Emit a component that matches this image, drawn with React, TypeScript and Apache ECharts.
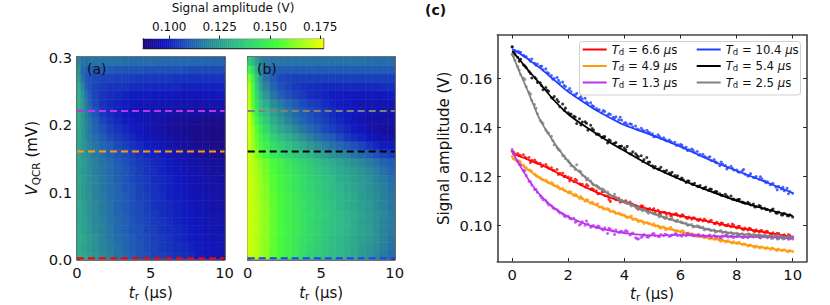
import React, { useEffect, useRef } from "react";
import * as echarts from "echarts";

const FONT = "DejaVu Sans";

// time-cell edges (µs) of the two maps; rows are evenly spaced over the voltage range
const tEdges = [0, .25, .5, .75, 1, 1.5, 2, 2.5, 3, 3.5, 4, 4.5, 5, 5.5, 6, 6.5, 7, 7.5, 8, 8.5, 9, 9.5, 10];
const vMax = 0.3;

// Signal amplitude (mV), bottom row first
const mapA = [
  [129,128,127,125,123,120,118,115,113,111,109,108,106,105,104,103,102,101,99,98,97,96],
  [128,127,126,124,122,119,117,115,112,110,109,107,106,104,103,102,101,100,99,98,97,96],
  [129,128,126,124,122,119,116,114,112,110,108,107,105,104,103,101,100,99,98,97,96,96],
  [128,127,125,123,121,118,116,113,111,109,108,106,105,103,102,101,100,99,98,97,96,95],
  [128,126,125,123,120,118,115,113,111,109,107,106,104,103,102,100,99,98,97,96,96,95],
  [127,126,124,122,120,117,115,112,110,108,107,105,104,102,101,100,99,98,97,96,95,95],
  [128,126,124,122,120,117,115,112,110,108,107,105,103,102,101,100,99,98,97,96,95,94],
  [127,125,123,122,119,117,114,112,110,108,106,105,103,102,100,99,98,97,96,96,95,94],
  [127,125,123,121,119,116,114,112,109,108,106,104,103,101,100,99,98,97,96,95,94,94],
  [127,125,123,121,119,116,114,111,109,107,105,104,102,101,100,98,97,96,95,95,94,93],
  [126,124,123,121,118,116,113,111,109,107,105,103,102,100,99,98,97,96,95,94,93,93],
  [127,125,123,120,118,115,113,110,108,106,104,103,101,100,98,97,96,95,94,93,93,92],
  [127,124,122,120,117,114,111,109,107,105,103,101,100,99,97,96,95,94,93,92,91,90],
  [127,124,121,118,116,112,110,107,105,103,101,99,98,97,95,94,93,92,91,91,90,89],
  [128,124,120,117,114,110,107,105,103,101,99,97,96,95,94,93,92,91,90,90,89,89],
  [128,124,119,116,112,108,105,103,101,99,98,96,95,94,93,92,91,91,90,90,89,89],
  [129,124,119,115,111,106,103,101,99,98,97,96,95,94,93,92,92,91,91,90,90,90],
  [129,124,118,114,109,104,102,100,98,97,96,96,95,95,95,94,94,94,93,93,93,93],
  [130,124,117,112,107,103,101,100,99,98,97,97,96,96,96,95,95,95,95,95,95,95],
  [130,123,115,110,106,103,102,101,100,99,99,99,98,98,98,98,97,97,97,97,97,98],
  [128,120,112,108,106,104,103,103,103,102,102,101,101,101,101,101,100,100,100,100,100,100],
  [125,116,110,108,107,106,106,105,105,105,104,104,104,104,104,103,103,103,103,103,103,103],
  [122,113,111,110,110,110,110,109,109,109,109,108,108,108,108,108,108,107,107,107,107,107],
  [119,116,115,115,115,115,115,115,114,114,114,114,114,113,113,113,113,113,113,112,112,112],
];
const mapB = [
  [171,170,168,166,163,157,153,150,147,143,140,138,136,134,132,130,128,125,123,120,117,114],
  [172,171,169,166,163,158,153,150,147,144,141,139,136,134,132,130,128,125,123,121,118,115],
  [172,170,168,166,163,157,153,150,147,144,142,139,137,134,132,130,128,126,124,122,119,116],
  [172,171,169,167,163,158,154,151,148,145,142,140,137,135,133,131,129,127,125,122,119,117],
  [172,170,168,166,163,157,153,150,148,145,142,139,137,135,133,131,129,126,124,122,119,117],
  [172,171,169,166,163,158,153,151,148,145,143,140,138,135,133,131,129,127,124,122,120,117],
  [171,170,168,166,163,157,153,150,147,145,142,140,137,135,132,130,128,126,124,121,119,116],
  [172,170,168,166,162,157,153,150,147,144,142,139,137,134,132,130,128,125,123,121,118,116],
  [171,170,168,165,162,156,152,149,146,143,141,138,136,133,131,129,127,125,122,120,118,115],
  [172,170,167,165,161,156,152,149,146,143,140,138,135,133,130,128,126,124,122,119,117,114],
  [171,169,167,164,160,155,151,148,145,142,139,136,134,131,129,127,125,123,120,118,115,112],
  [171,169,166,163,159,154,150,146,143,140,137,134,131,129,127,124,122,120,117,115,112,110],
  [171,167,162,158,153,147,144,140,137,134,131,128,125,122,120,118,115,113,111,108,106,104],
  [171,166,160,155,150,143,139,135,131,128,124,121,118,115,113,110,108,106,103,101,99,98],
  [172,165,158,152,147,139,134,130,126,122,118,115,112,110,107,104,102,100,98,96,95,94],
  [172,164,156,149,142,134,128,124,120,116,113,110,107,105,103,101,99,97,95,94,93,93],
  [172,161,152,145,138,129,124,119,115,112,109,107,105,103,101,99,97,96,94,94,94,94],
  [171,158,148,140,134,126,121,117,113,110,108,106,104,102,100,99,98,97,96,96,95,95],
  [171,156,145,136,129,121,117,113,110,107,105,104,102,100,99,98,97,96,96,96,96,96],
  [170,155,142,132,124,116,111,108,106,104,102,101,100,99,99,98,98,98,98,98,98,99],
  [168,154,138,127,119,112,108,106,104,103,102,102,101,101,101,101,101,101,101,101,102,102],
  [162,150,135,124,115,110,107,106,105,105,105,105,105,105,105,105,105,105,105,105,105,105],
  [152,142,130,120,114,111,110,110,110,110,110,110,110,110,110,110,110,110,110,110,110,110],
  [138,132,125,120,117,116,116,115,115,115,115,115,115,115,115,115,115,115,114,114,114,114],
];

const linesA = [0.002, 0.16, 0.22];
const linesB = [0.002, 0.16, 0.22];
const linesAColors = ["#ff0000", "#ff9a0c", "#bb33ee"];
const linesBColors = ["#2040ff", "#000000", "#808080"];

const cbTicks = [0.1, 0.125, 0.15, 0.175];
const cbMin = 0.0871;
const cbMax = 0.1765;
const cmap = ["#1e0878", "#1018c0", "#2058b8", "#2a8c96", "#2fb888", "#34dc68", "#48fc3a", "#9cff18", "#f0ff00"];

const tdLabels = ["6.6", "4.9", "1.3", "10.4", "5.4", "2.5"];
const colors = ["#ff0000", "#ff9a0c", "#bb33ee", "#2040ff", "#000000", "#808080"];

// fit curves (mV) at fitT (µs)
const fitT = [0, .25, .5, .75, 1, 1.5, 2, 2.5, 3, 3.5, 4, 5, 6, 7, 8, 9, 10];
const fitRed = [129.5,128.3,127.2,126,124.9,122.2,119.2,116.3,113.6,111.4,109.5,106.4,104,101.7,99.3,97.3,95.5];
const fitOrange = [127.6,125.4,123.3,121.2,119.2,116.3,113.6,110.9,108.2,106,104,100.4,97.6,95,92.9,91,89.5];
const fitPurple = [130.3,125,120.3,116,112.5,107.2,103.6,101.2,99.3,98,97,96,96.2,95.8,95.5,95.4,94.8];
const fitBlue = [172,170.2,168.4,166.3,164.2,159.3,154.5,150.7,147,143.9,141,136.8,132.2,127,122.4,118,113.3];
const fitBlack = [171,167.8,164.3,161,157.8,151,145.4,141.2,137.5,133.8,130.5,124,118.8,114.3,110.2,106.9,104];
const fitGray = [170,163,156.5,149.5,143,133.8,126.2,120.8,116,112.5,109.7,105,101.3,98.4,96.8,96,95.3];

// measured points (mV), one every 0.1 µs from t = 0
const ptsRed = [130.3,129.2,129.4,128.5,128.9,127.6,127.8,126.6,126.7,125.5,125.4,124.6,124.9,123.4,123.6,122.5,122.9,121.3,121.4,120.2,119.8,119.4,117.9,118.4,117.1,116.9,115.8,116.2,114.9,114.7,114.2,113.1,113.6,112.3,112.1,109.9,111.7,110.6,111.2,110.0,109.8,109.1,109.6,108.6,108.2,106.7,108.1,107.2,106.6,107.0,106.4,105.6,106.3,105.2,105.5,104.7,105.1,104.3,104.6,104.2,103.7,104.2,103.2,103.5,102.6,103.1,102.3,102.7,101.9,102.1,101.5,102.2,100.9,101.4,100.3,101.0,100.1,100.5,99.6,100.2,99.1,99.8,98.6,99.0,98.2,98.7,97.9,98.3,97.4,98.0,97.2,97.7,96.6,97.1,96.3,96.8,95.9,96.3,95.6,96.0,95.4];
const ptsOrange = [128.2,127.2,126.5,125.9,124.7,123.6,122.8,122.2,121.0,120.1,119.6,118.7,118.6,117.5,117.6,116.4,116.2,115.0,115.1,114.2,113.4,113.6,112.3,112.4,111.1,111.2,110.0,110.4,109.2,109.0,108.6,107.6,107.7,106.9,107.0,105.8,106.0,105.0,105.2,104.5,104.3,103.2,103.6,102.5,102.7,101.6,102.0,100.9,101.3,100.8,100.2,99.8,99.9,99.0,99.5,98.4,98.7,98.6,98.0,97.9,97.4,97.8,96.5,97.0,96.1,96.4,95.6,96.0,95.3,95.5,94.9,95.3,94.4,94.7,93.9,94.2,93.4,93.8,93.2,93.4,92.8,93.2,92.3,92.5,91.7,92.1,91.5,91.7,91.0,91.4,90.9,91.1,90.4,90.7,90.1,90.5,89.9,90.2,89.6,89.9,89.5];
const ptsPurple = [131.0,128.6,126.2,124.7,122.6,120.4,118.1,116.6,114.7,113.6,112.2,110.6,110.2,108.4,108.1,106.9,106.5,105.2,104.8,103.6,103.8,102.7,103.0,101.8,100.3,101.6,100.2,100.7,99.4,100.1,99.2,99.6,98.6,99.1,96.8,98.5,97.9,98.2,97.2,97.7,97.3,97.6,96.2,97.0,95.1,94.6,95.2,96.4,95.5,95.9,96.6,96.0,95.7,96.4,95.9,96.3,95.6,96.2,96.6,96.0,96.1,96.5,95.9,96.3,96.6,95.8,96.2,95.7,96.1,95.5,95.9,95.3,96.0,95.5,95.1,95.8,96.0,95.4,95.7,95.2,95.6,96.0,95.3,95.7,95.1,95.8,95.4,95.9,95.3,95.7,95.5,95.1,95.7,95.2,95.6,95.0,95.4,94.8,95.2,94.7,94.6];
const ptsBlue = [172.8,171.4,171.0,170.6,169.4,168.8,167.7,167.9,166.2,165.9,164.9,163.5,163.9,162.0,161.2,160.0,160.4,158.2,158.5,156.7,155.2,154.7,153.3,153.9,152.0,151.6,151.9,149.8,150.1,148.6,147.7,147.2,146.0,146.5,145.0,145.3,144.2,144.4,143.1,143.0,141.8,141.1,141.5,140.2,140.6,139.1,139.7,138.5,138.9,137.8,137.4,136.4,137.0,135.6,135.8,134.6,134.9,133.8,134.0,133.0,133.1,131.7,132.0,130.9,131.2,129.8,130.2,129.0,129.1,127.9,127.7,126.6,126.9,125.6,124.4,125.1,124.5,123.7,124.2,122.7,122.7,121.8,122.3,121.0,120.2,121.2,119.6,120.0,118.9,119.1,118.2,117.9,116.7,117.2,115.8,116.0,115.0,114.2,115.2,113.9,113.2];
const ptsBlack = [172.9,170.0,168.6,167.8,165.6,164.4,162.8,160.2,160.5,158.4,158.2,155.4,156.3,154.8,152.2,152.6,151.4,148.5,149.6,147.9,146.0,145.5,144.6,141.6,143.6,142.2,142.3,138.9,140.9,139.0,137.3,137.1,135.8,136.3,133.7,134.6,133.4,133.9,132.2,132.4,131.6,132.3,129.3,130.1,129.3,128.1,128.5,126.9,127.8,125.9,124.4,124.1,123.1,123.8,122.3,122.5,121.4,121.8,120.4,120.3,119.0,118.7,117.6,118.2,117.0,117.3,116.1,116.4,115.2,115.7,114.4,114.8,113.6,113.8,113.0,112.4,112.8,111.6,112.1,110.8,110.4,110.7,109.6,109.1,109.5,108.4,108.8,107.7,108.2,107.0,107.1,106.6,105.9,106.8,105.2,105.6,104.4,105.0,104.2,104.4,103.5];
const ptsGray = [169.8,167.4,164.8,161.6,160.2,156.6,154.4,151.0,149.4,145.6,142.9,141.6,139.0,137.6,136.4,132.9,131.8,130.6,128.6,127.4,126.4,124.4,123.9,124.8,122.3,120.6,119.9,119.2,118.2,116.6,116.4,115.4,115.0,114.2,113.7,112.3,112.0,111.6,110.6,110.4,109.9,109.5,108.8,108.8,107.6,107.7,106.6,106.9,105.8,105.8,105.2,104.8,104.4,104.2,103.4,103.6,102.6,103.0,102.0,102.3,101.6,101.1,101.0,100.4,100.5,99.7,99.9,99.3,99.4,98.6,98.6,98.0,98.2,97.6,97.8,97.1,97.5,96.9,97.2,96.6,96.9,96.3,96.7,96.0,96.6,95.8,96.4,95.7,96.3,95.4,96.1,95.3,96.0,95.0,95.9,94.7,95.8,94.9,95.6,95.1,95.3];

// further measured points (mV), one every 0.2 µs from t = 0.05
const pts2Red = [129.9,128.7,127.9,125.7,125.9,124.1,124.0,122.6,120.9,120.0,118.2,118.9,116.7,116.8,115.0,113.0,113.9,110.7,111.5,109.6,110.1,108.8,107.6,108.0,106.2,106.9,105.0,105.4,104.0,104.9,104.4,102.9,103.2,102.1,102.7,101.9,100.8,101.1,100.0,100.7,99.6,98.3,98.9,97.5,97.9,97.6,96.5,96.9,95.9,96.4];
const pts2Orange = [127.3,126.3,123.9,122.5,120.5,118.9,118.0,117.3,115.7,114.5,113.9,112.7,111.9,110.6,109.6,108.9,106.8,106.6,105.6,104.8,103.7,103.9,102.4,101.6,101.0,100.8,99.3,98.6,99.3,97.7,97.9,96.9,96.2,95.7,95.1,94.6,94.9,93.7,93.6,92.9,93.0,92.5,91.9,91.2,91.0,90.6,90.9,89.9,90.0,89.4];
const pts2Purple = [129.4,125.0,122.4,117.9,114.7,111.4,109.3,107.3,105.8,104.1,103.0,101.4,100.8,101.9,99.8,99.8,98.2,98.9,96.4,97.5,98.0,96.6,94.7,95.7,95.3,96.8,95.5,96.5,95.9,96.7,95.7,96.8,96.0,96.4,95.8,96.2,95.4,95.0,96.1,95.5,95.9,95.2,96.1,95.6,95.0,95.8,95.3,94.6,95.4,94.5];
const pts2Blue = [171.3,170.8,168.9,167.0,165.4,165.0,162.4,159.7,159.2,157.1,155.9,153.0,152.5,150.4,148.9,147.0,146.9,145.6,143.8,144.2,141.9,141.3,139.4,139.0,138.2,136.2,136.3,135.0,134.3,132.8,132.9,130.6,130.7,128.8,128.2,128.1,125.9,125.9,123.1,123.4,122.0,122.9,120.4,119.5,119.9,117.5,117.0,114.6,115.6,113.0];
const pts2Black = [170.5,167.0,165.1,162.0,159.9,157.0,155.2,151.8,150.5,147.0,145.3,144.3,141.0,141.7,139.6,137.3,136.2,135.0,133.5,132.3,130.9,129.2,128.6,126.2,125.8,123.5,123.0,121.8,121.0,119.7,119.4,118.2,116.8,115.9,115.2,114.9,113.9,112.4,112.1,110.8,110.6,109.4,109.0,107.6,107.9,106.6,106.4,105.1,104.4,103.9];
const pts2Gray = [169.0,163.4,159.6,153.6,147.8,142.2,138.2,134.6,131.0,128.4,125.6,122.9,121.9,118.6,117.2,115.9,114.6,112.9,112.8,109.9,109.4,108.0,107.0,106.1,105.1,104.9,103.6,102.9,102.6,101.7,101.3,100.2,99.5,99.7,98.3,98.3,97.4,97.9,97.0,96.8,96.6,95.9,96.6,95.5,96.0,95.8,94.8,96.2,94.6,95.9];

const fits = [fitRed, fitOrange, fitPurple, fitBlue, fitBlack, fitGray];
const pts = [ptsRed, ptsOrange, ptsPurple, ptsBlue, ptsBlack, ptsGray];
const pts2 = [pts2Red, pts2Orange, pts2Purple, pts2Blue, pts2Black, pts2Gray];

const AXIS = "#444444";
const TXT = "#111111";

const cellItem = (_: any, api: any) => {
  const a = api.coord([api.value(0), api.value(3)]);
  const b = api.coord([api.value(1), api.value(2)]);
  const color = api.visual("color");
  return {
    type: "rect",
    shape: { x: a[0], y: a[1], width: b[0] - a[0], height: b[1] - a[1] },
    style: { fill: color, stroke: color, lineWidth: 0.6 },
  };
};

const mapCells = (rows: number[][]) => {
  const out: number[][] = [];
  const dv = vMax / rows.length;
  rows.forEach((row, r) =>
    row.forEach((v, c) => out.push([tEdges[c], tEdges[c + 1], r * dv, (r + 1) * dv, v / 1000]))
  );
  return out;
};

const cbCells = () => {
  const n = 90;
  const out: number[][] = [];
  const d = (cbMax - cbMin) / n;
  for (let i = 0; i < n; i++) out.push([cbMin + i * d, cbMin + (i + 1) * d, 0, 1, cbMin + (i + 0.5) * d]);
  return out;
};

const axisRich = {
  i: { fontFamily: FONT, fontStyle: "italic", fontSize: 15, color: TXT, lineHeight: 18 },
  s: { fontFamily: FONT, fontSize: 10.5, color: TXT, verticalAlign: "bottom", lineHeight: 18 },
  n: { fontFamily: FONT, fontSize: 15, color: TXT, lineHeight: 18 },
};

const tName = "{i|t}{s|r}{n| (μs)}";

function xAx(gridIndex: number, o: any) {
  return {
    type: "value", gridIndex, position: "bottom", splitLine: { show: false },
    axisLine: { show: true, onZero: false, lineStyle: { color: AXIS, width: 1.6 } },
    axisTick: { show: true, inside: true, length: 3.5, lineStyle: { color: "#222", width: 1 } },
    axisLabel: { show: true, color: TXT, fontSize: 14.7, fontFamily: FONT, margin: 5 },
    ...o,
  };
}
function yAx(gridIndex: number, o: any) {
  return {
    type: "value", gridIndex, position: "left", splitLine: { show: false },
    axisLine: { show: true, onZero: false, lineStyle: { color: AXIS, width: 1.6 } },
    axisTick: { show: true, inside: true, length: 3.5, lineStyle: { color: "#222", width: 1 } },
    axisLabel: { show: true, color: TXT, fontSize: 14.7, fontFamily: FONT, margin: 5 },
    ...o,
  };
}
const noLabel = { axisLabel: { show: false } };
const fmt1 = (v: number) => v.toFixed(1);
const fmt2 = (v: number) => v.toFixed(2);

const mapXBase = { min: 0, max: 10, interval: 5 };
const mapYBase = { min: 0, max: vMax, interval: 0.1 };
const cX = { min: -0.53, max: 10.5 };
const cY = { min: 0.0854, max: 0.1777 };
const cXTicks = [0, 2, 4, 6, 8, 10];
const cYTicks = [0.1, 0.12, 0.14, 0.16];

function tickCustom(vals: number[], base: any) {
  return {
    axisTick: { ...base.axisTick, customValues: vals },
    axisLabel: { ...base.axisLabel, customValues: vals },
  };
}

export default function App() {
  const ref = useRef<HTMLDivElement>(null);
  useEffect(() => {
    const chart = echarts.init(ref.current!, undefined, { renderer: "svg" });

    const grids = [
      { left: 77, top: 57, width: 147.5, height: 202.5 },
      { left: 247.7, top: 57, width: 147, height: 202.5 },
      { left: 497.3, top: 35, width: 309.4, height: 226.5 },
      { left: 143.3, top: 39, width: 180, height: 9.3 },
    ].map((g) => ({ ...g, containLabel: false, outerBoundsMode: "none" }));

    const baseTick = { show: true, inside: true, length: 3.5, lineStyle: { color: "#222", width: 1 } };
    const baseLab = { show: true, color: TXT, fontSize: 14.7, fontFamily: FONT, margin: 5 };

    const xAxis: any[] = [
      xAx(0, { ...mapXBase, name: tName, nameLocation: "middle", nameGap: 24, nameTextStyle: { rich: axisRich } }),
      xAx(0, { ...mapXBase, position: "top", ...noLabel }),
      xAx(1, { ...mapXBase, name: tName, nameLocation: "middle", nameGap: 24, nameTextStyle: { rich: axisRich } }),
      xAx(1, { ...mapXBase, position: "top", ...noLabel }),
      xAx(2, { ...cX, name: tName, nameLocation: "middle", nameGap: 23, nameTextStyle: { rich: axisRich }, ...tickCustom(cXTicks, { axisTick: baseTick, axisLabel: baseLab }) }),
      xAx(2, { ...cX, position: "top", axisTick: { ...baseTick, customValues: cXTicks }, axisLabel: { show: false } }),
      xAx(3, {
        min: cbMin, max: cbMax, position: "top",
        axisLine: { show: true, onZero: false, lineStyle: { color: "#222", width: 1.4 } },
        axisTick: { show: true, inside: false, length: 3.5, lineStyle: { color: "#222", width: 1 }, customValues: cbTicks },
        axisLabel: { show: true, color: TXT, fontSize: 12, fontFamily: FONT, margin: 6, formatter: (v: number) => v.toFixed(3), customValues: cbTicks },
      }),
      xAx(3, { min: cbMin, max: cbMax, position: "bottom", axisTick: { show: false }, axisLabel: { show: false }, axisLine: { show: true, onZero: false, lineStyle: { color: "#222", width: 1.4 } } }),
    ];

    const yAxis: any[] = [
      yAx(0, { ...mapYBase, name: "{i|V}{s|QCR}{n| (mV)}", nameLocation: "middle", nameGap: 36, nameTextStyle: { rich: axisRich }, axisLabel: { ...baseLab, margin: 5, formatter: fmt1 } }),
      yAx(0, { ...mapYBase, position: "right", ...noLabel }),
      yAx(1, { ...mapYBase, ...noLabel }),
      yAx(1, { ...mapYBase, position: "right", ...noLabel }),
      yAx(2, {
        ...cY, name: "Signal amplitude (V)", nameLocation: "middle", nameGap: 46,
        nameTextStyle: { color: TXT, fontSize: 15, fontFamily: FONT },
        axisTick: { ...baseTick, customValues: cYTicks },
        axisLabel: { ...baseLab, margin: 5, formatter: fmt2, customValues: cYTicks },
      }),
      yAx(2, { ...cY, position: "right", axisTick: { ...baseTick, customValues: cYTicks }, axisLabel: { show: false } }),
      yAx(3, { min: 0, max: 1, axisTick: { show: false }, axisLabel: { show: false }, axisLine: { show: true, onZero: false, lineStyle: { color: "#222", width: 1.4 } } }),
      yAx(3, { min: 0, max: 1, position: "right", axisTick: { show: false }, axisLabel: { show: false }, axisLine: { show: true, onZero: false, lineStyle: { color: "#222", width: 1.4 } } }),
    ];

    const custom = (data: number[][], xi: number, yi: number) => ({
      type: "custom", coordinateSystem: "cartesian2d", xAxisIndex: xi, yAxisIndex: yi,
      renderItem: cellItem, data, silent: true, z: 1,
      encode: { x: [0, 1], y: [2, 3] }, clip: true,
    });

    const dashed = (vs: number[], cs: string[], xi: number, yi: number) =>
      vs.map((v, i) => ({
        type: "line", xAxisIndex: xi, yAxisIndex: yi, showSymbol: false, silent: true, z: 3,
        data: [[0, v], [10, v]],
        lineStyle: { color: cs[i], width: 2, type: [7, 4] },
      }));

    const series: any[] = [
      custom(mapCells(mapA), 0, 0),
      custom(mapCells(mapB), 2, 2),
      custom(cbCells(), 6, 6),
      ...dashed(linesA, linesAColors, 0, 0),
      ...dashed(linesB, linesBColors, 2, 2),
    ];
    tdLabels.forEach((td, i) => {
      const a = pts[i].map((v, k) => [k / 10, v / 1000]);
      const b = pts2[i].map((v, k) => [0.05 + k / 5, v / 1000]);
      series.push({
        name: td, type: "line", xAxisIndex: 4, yAxisIndex: 4, showSymbol: false, smooth: 0.3, silent: true, z: 3 + i,
        lineStyle: { color: colors[i], width: 1.7 }, itemStyle: { color: colors[i] },
        data: fitT.map((t, k) => [t, fits[i][k] / 1000]),
      });
      series.push({
        name: td + "-pts", type: "scatter", xAxisIndex: 4, yAxisIndex: 4, symbolSize: 3, silent: true, z: 3 + i,
        itemStyle: { color: colors[i] },
        data: a.concat(b),
      });
    });

    const legendRich = {
      i: { fontFamily: FONT, fontStyle: "italic", fontSize: 11.7, color: TXT, lineHeight: 13 },
      s: { fontFamily: FONT, fontSize: 8.5, color: TXT, verticalAlign: "bottom", lineHeight: 13 },
      n: { fontFamily: FONT, fontSize: 11.7, color: TXT, lineHeight: 13 },
    };
    const legendBase = {
      orient: "vertical", icon: "rect", itemWidth: 24, itemHeight: 2, itemGap: 4, padding: 0, z: 6,
      selectedMode: false, itemStyle: { borderWidth: 0 },
      textStyle: { rich: legendRich, padding: [0, 0, 0, 0] },
      formatter: (n: string) => `{i|T}{s|d}{n| = ${n} }{i|μ}{n|s}`,
    };

    chart.setOption({
      animation: false,
      textStyle: { fontFamily: FONT },
      grid: grids,
      xAxis, yAxis, series,
      visualMap: {
        show: false, type: "continuous", min: cbMin, max: cbMax, dimension: 4,
        seriesIndex: [0, 1, 2], inRange: { color: cmap },
      },
      legend: [
        { ...legendBase, left: 582.7, top: 43.5, data: tdLabels.slice(0, 3) },
        { ...legendBase, left: 696.7, top: 43.5, data: tdLabels.slice(3) },
      ],
      graphic: [
        { type: "rect", z: 5, shape: { x: 579.5, y: 41.5, width: 221, height: 53.5, r: 3 }, style: { fill: "rgba(255,255,255,0.8)", stroke: "#d0d0d0", lineWidth: 1 } },
        { type: "text", z: 7, x: 233, y: 8, style: { text: "Signal amplitude (V)", fontSize: 12, fontFamily: FONT, fill: TXT, align: "center", verticalAlign: "middle" } },
        { type: "text", z: 7, x: 87, y: 69, style: { text: "(a)", fontSize: 14, fontFamily: FONT, fill: TXT, verticalAlign: "middle" } },
        { type: "text", z: 7, x: 257, y: 69, style: { text: "(b)", fontSize: 14, fontFamily: FONT, fill: TXT, verticalAlign: "middle" } },
        { type: "text", z: 7, x: 425, y: 10, style: { text: "(c)", fontSize: 14, fontWeight: "bold", fontFamily: FONT, fill: TXT, verticalAlign: "middle" } },
      ],
    });
    return () => chart.dispose();
  }, []);
  return <div ref={ref} style={{ position: "absolute", left: 0, top: 0, width: 830, height: 305 }} />;
}
